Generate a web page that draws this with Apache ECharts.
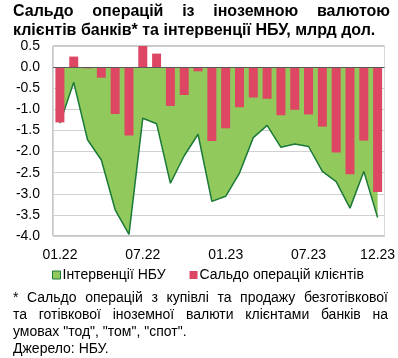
<!DOCTYPE html>
<html><head><meta charset="utf-8">
<script src="https://cdn.jsdelivr.net/npm/echarts@6/dist/echarts.min.js"></script>
<style>html,body{margin:0;padding:0;background:#fff}#c{width:398px;height:358px}</style>
</head><body><div id="c"></div>
<script>
const categories = ['01.22','02.22','03.22','04.22','05.22','06.22','07.22','08.22','09.22','10.22','11.22','12.22',
                    '01.23','02.23','03.23','04.23','05.23','06.23','07.23','08.23','09.23','10.23','11.23','12.23'];
const interventions = [-1.33,-0.36,-1.72,-2.20,-3.38,-3.96,-1.21,-1.34,-2.75,-2.10,-1.59,-3.18,
                       -3.06,-2.51,-1.67,-1.38,-1.90,-1.82,-1.88,-2.47,-2.71,-3.34,-2.47,-3.56];
const clientBalance = [-1.31,0.25,-0.03,-0.25,-1.11,-1.62,0.50,0.32,-0.92,-0.66,-0.10,-1.75,
                       -1.45,-0.95,-0.72,-0.75,-1.14,-1.01,-1.12,-1.41,-2.02,-2.54,-1.74,-2.96];
const shownLabels = ['01.22','07.22','01.23','07.23','12.23'];
const seriesNames = ['Інтервенції НБУ','Сальдо операцій клієнтів'];
const titleLines = ['Сальдо операцій із іноземною валютою','клієнтів банків* та інтервенції НБУ, млрд дол.'];
const noteLines = ['* Сальдо операцій з купівлі та продажу безготівкової',
                   'та готівкової іноземної валюти клієнтами банків на',
                   'умовах "тод", "том", "спот".',
                   'Джерело: НБУ.'];

const FF = '"Liberation Sans", Arial, sans-serif';
const mctx = document.createElement('canvas').getContext('2d');
function textLine(line, x0, x1, y, size, weight, justify) {
  const font = weight + ' ' + size + 'px ' + FF;
  if (!justify) {
    return [{type:'text', x:x0, y:y, style:{text:line, font:font, fill:'#000', textVerticalAlign:'middle'}}];
  }
  mctx.font = font;
  const words = line.split(' ');
  const widths = words.map(w => mctx.measureText(w).width);
  const total = widths.reduce((a,b)=>a+b,0);
  const gap = (x1 - x0 - total) / (words.length - 1);
  let x = x0; const out = [];
  words.forEach((w,i) => {
    out.push({type:'text', x:x, y:y, style:{text:w, font:font, fill:'#000', textVerticalAlign:'middle'}});
    x += widths[i] + gap;
  });
  return out;
}
const graphics = [].concat(
  textLine(titleLines[0], 13, 390, 11.5, 16, 'bold', true),
  textLine(titleLines[1], 13, 390, 30.5, 16, 'bold', false),
  textLine(noteLines[0], 13, 388, 298.5, 14, 'normal', true),
  textLine(noteLines[1], 13, 388, 315.5, 14, 'normal', true),
  textLine(noteLines[2], 13, 388, 332.5, 14, 'normal', false),
  textLine(noteLines[3], 13, 388, 349.5, 14, 'normal', false)
);

const chart = echarts.init(document.getElementById('c'));
chart.setOption({
  animation:false,
  textStyle:{fontFamily:FF},
  grid:{left:53, right:7, top:46, bottom:122, show:true, borderColor:'#8c8c8c', borderWidth:1},
  legend:{
    left:47, top:263, itemWidth:8, itemHeight:8, itemGap:24,
    textStyle:{fontSize:14, color:'#000', fontFamily:FF, padding:[0,0,0,-3]},
    data:[
      {name:seriesNames[0], icon:'path://M0 0H10V10H0Z', itemStyle:{color:'#92c95c', borderColor:'#1b7a38', borderWidth:1}},
      {name:seriesNames[1], icon:'path://M0 0H10V10H0Z', itemStyle:{color:'#dd4764', borderWidth:0}}
    ]
  },
  xAxis:{
    type:'category', data:categories, boundaryGap:true,
    axisLine:{show:false, onZero:false}, axisTick:{show:false},
    axisLabel:{interval:(i,v)=>shownLabels.includes(v), fontSize:14, color:'#000', margin:12, fontFamily:FF},
    splitLine:{show:true, interval:(i)=>i===12, lineStyle:{color:'#d9d9d9', width:1}}
  },
  yAxis:{
    type:'value', min:-4, max:0.5, interval:0.5,
    axisLine:{show:false}, axisTick:{show:false},
    axisLabel:{formatter:v=>v.toFixed(1), fontSize:14, color:'#000', margin:13, fontFamily:FF},
    splitLine:{lineStyle:{color:'#d0d0d0', width:1}}
  },
  series:[
    {name:seriesNames[0], type:'line', data:interventions, symbol:'none', z:2,
     lineStyle:{color:'#1b7a38', width:1.5}, itemStyle:{color:'#92c95c'},
     areaStyle:{color:'#92c95c', opacity:1, origin:0}},
    {name:seriesNames[1], type:'bar', data:clientBalance, barWidth:9, z:3,
     itemStyle:{color:'#dd4764'},
     markLine:{silent:true, symbol:'none', label:{show:false}, lineStyle:{color:'#595959', width:1, type:'solid'},
       data:[{yAxis:0}]}}
  ],
  graphic:graphics
});
</script></body></html>
